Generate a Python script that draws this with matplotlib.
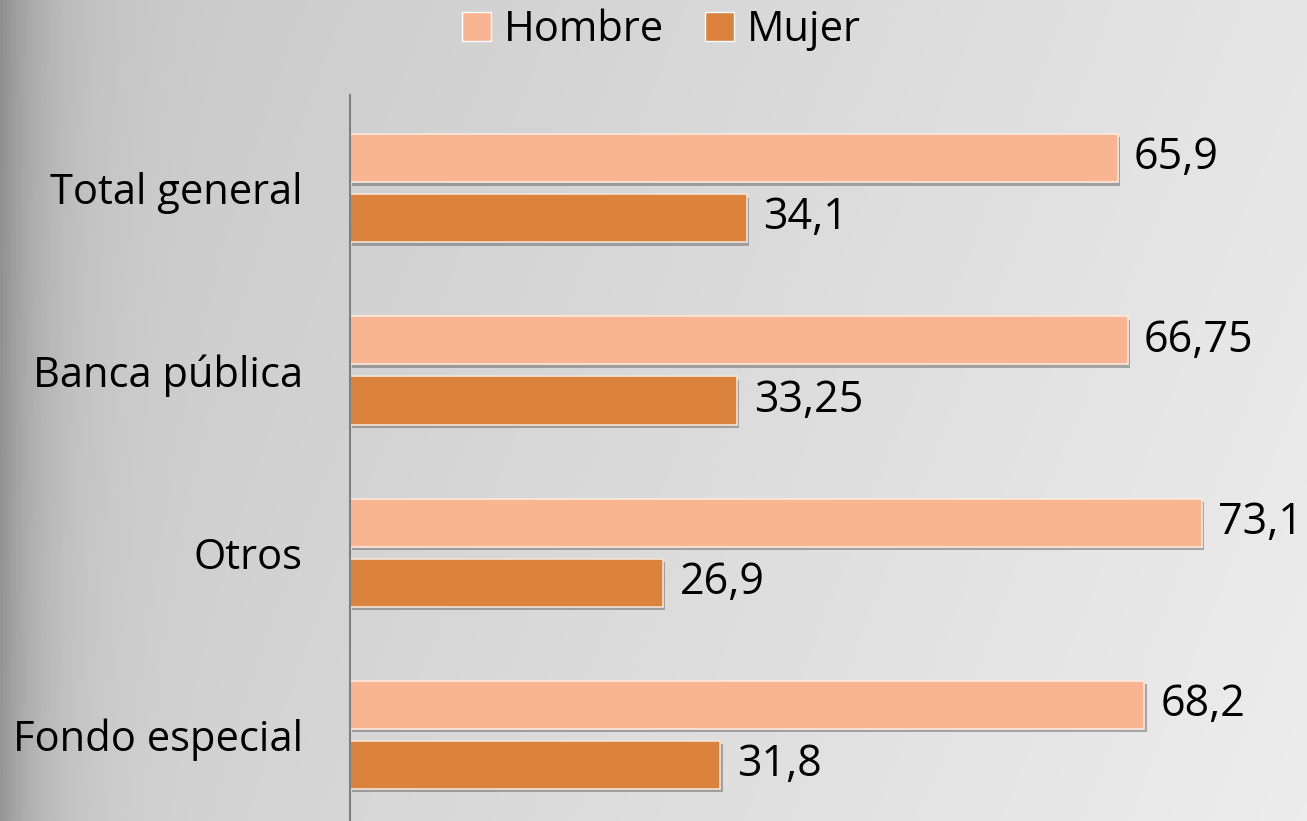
import numpy as np
import matplotlib
matplotlib.use("Agg")
import matplotlib.pyplot as plt
import matplotlib.patheffects as pe
from matplotlib.patches import Patch

categories = ["Total general", "Banca pública", "Otros", "Fondo especial"]
hombre = [65.9, 66.75, 73.1, 68.2]
mujer = [34.1, 33.25, 26.9, 31.8]
hombre_labels = ["65,9", "66,75", "73,1", "68,2"]
mujer_labels = ["34,1", "33,25", "26,9", "31,8"]

c_hombre = "#f9b592"
c_mujer = "#db823d"
font = "Open Sans"

fig = plt.figure(figsize=(13.07, 8.21), dpi=100)

# background gradient
bg = fig.add_axes([0, 0, 1, 1], zorder=-10)
W, H = 400, 250
xx = np.linspace(0, 1, W)[None, :]
yy = np.linspace(0, 1, H)[:, None]
val = 0.78 + 0.12 * xx + 0.03 * yy
val = val - 0.22 * np.exp(-xx / 0.035)
img = np.clip(np.repeat(val[:, :, None], 3, axis=2), 0, 1)
bg.imshow(img, aspect="auto", extent=[0, 1, 0, 1], origin="upper")
bg.axis("off")

ax = fig.add_axes([350 / 1307, 0, 1 - 350 / 1307, 1 - 95 / 821])
ax.patch.set_alpha(0)

y = np.arange(len(categories))
h = 0.264
off = 0.165
shadow = [pe.SimplePatchShadow(offset=(1.5, -2.5), shadow_rgbFace="#555555", alpha=0.45), pe.Normal()]
b1 = ax.barh(y - off, hombre, height=h, color=c_hombre, edgecolor="#fde9de", linewidth=1.2)
b2 = ax.barh(y + off, mujer, height=h, color=c_mujer, edgecolor="#f3e3d6", linewidth=1.2)
for b in list(b1) + list(b2):
    b.set_path_effects(shadow)

for yi, v, t in zip(y - off, hombre, hombre_labels):
    ax.text(v + 1.4, yi, t, va="center", ha="left", fontsize=31, family=font, color="black")
for yi, v, t in zip(y + off, mujer, mujer_labels):
    ax.text(v + 1.4, yi, t, va="center", ha="left", fontsize=31, family=font, color="black")

ax.set_xlim(0, 82.15)
ax.set_ylim(3.4725, -0.511)
ax.set_yticks(y)
ax.set_yticklabels(categories, fontsize=30, family=font)
ax.tick_params(axis="y", length=0, pad=34)
ax.set_xticks([])
for s in ["top", "right", "bottom"]:
    ax.spines[s].set_visible(False)
ax.spines["left"].set_color("#808080")
ax.spines["left"].set_linewidth(1.5)

handles = [Patch(facecolor=c_hombre, edgecolor="white", label="Hombre"),
           Patch(facecolor=c_mujer, edgecolor="white", label="Mujer")]
fig.legend(handles=handles, loc="center", bbox_to_anchor=(0.506, 0.963), ncol=2, frameon=False,
           prop={"family": font, "size": 30}, handlelength=0.7, handleheight=0.7,
           handletextpad=0.3, columnspacing=1.0)

fig.savefig("out.png", dpi=100)
